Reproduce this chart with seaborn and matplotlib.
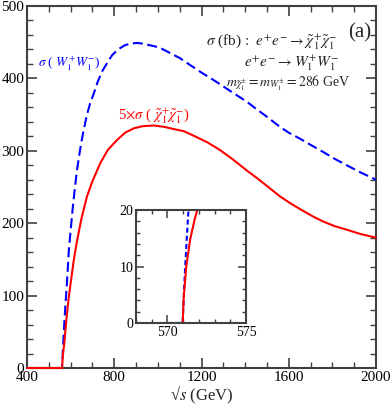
import numpy as np
import pandas as pd
import matplotlib
matplotlib.use("Agg")
import matplotlib.pyplot as plt
from matplotlib.ticker import MultipleLocator
import seaborn as sns

# ---- data ----
ww_sqrt_s = [400, 560, 563, 566, 570, 575, 583, 592, 600, 610, 620, 629, 640,
             650, 660, 675, 690, 706, 725, 745, 767, 790, 810, 828, 850, 875,
             904, 930, 960, 990, 1011, 1050, 1101, 1150, 1200, 1254, 1300,
             1350, 1407, 1450, 1500, 1560, 1600, 1650, 1713, 1760, 1810,
             1866, 1930, 2000]
ww_sigma = [0, 0, 15, 34, 56, 82, 117, 163, 190, 222, 250, 273, 295,
            313, 329, 350, 366, 379, 396, 410, 421, 432, 438, 442, 446, 448,
            449, 448, 446, 444, 442, 436, 428, 418, 408, 398, 389,
            379, 368, 358, 347, 333, 325, 317, 306, 298, 289,
            280, 270, 260]

chi_sqrt_s = [400, 561, 563, 566, 571, 576, 582, 590, 600, 614, 629, 650, 675,
              700, 736, 770, 813, 850, 889, 930, 981, 1030, 1073, 1120, 1170,
              1225, 1280, 1340, 1407, 1460, 1510, 1560, 1610, 1660, 1713,
              1760, 1810, 1866, 1930, 2000]
chi_sigma5 = [0, 0, 12, 22, 34, 52, 71, 94, 117, 148, 175, 207, 237,
              258, 283, 301, 315, 325, 331, 334, 335, 333, 330, 327, 320,
              312, 302, 289, 273, 261, 249, 237, 227, 218, 209,
              202, 196, 191, 185, 180]

ins_ww_x = [570.0, 570.97, 571.04, 571.13, 571.22, 571.3, 571.35]
ins_ww_y = [0, 0, 4.7, 10, 14.5, 18.2, 20.5]
ins_chi_x = [570.0, 570.97, 571.04, 571.2, 571.44, 571.72, 571.9]
ins_chi_y = [0, 0, 4.7, 10, 14.7, 18.2, 20]

x_ticks = [400, 800, 1200, 1600, 2000]
y_ticks = [0, 100, 200, 300, 400, 500]
ins_x_ticks = [570, 575]
ins_y_ticks = [0, 10, 20]

sns.set_theme(style="ticks")
plt.rcParams["font.family"] = ["Liberation Serif", "DejaVu Serif"]
plt.rcParams["mathtext.fontset"] = "stix"

W, H = 392, 409
fig = plt.figure(figsize=(W / 100, H / 100), dpi=100)
ax = fig.add_axes([27 / W, 1 - 368 / H, (376 - 27) / W, (368 - 6) / H])

BLUE = "#0000ff"
RED = "#ff0000"
SPINE = "#404040"

df_ww = pd.DataFrame({"x": ww_sqrt_s, "y": ww_sigma})
df_chi = pd.DataFrame({"x": chi_sqrt_s, "y": chi_sigma5})

sns.lineplot(data=df_ww, x="x", y="y", ax=ax, color=BLUE, lw=1.5,
             estimator=None, sort=False)
ax.lines[-1].set_dashes([4.8, 2.2])
ax.lines[-1].set_clip_on(False)
sns.lineplot(data=df_chi, x="x", y="y", ax=ax, color=RED, lw=1.5,
             estimator=None, sort=False)
ax.lines[-1].set_clip_on(False)

ax.set_xlim(400, 2000)
ax.set_ylim(0, 500)
ax.set_xticks(x_ticks)
ax.set_yticks(y_ticks)
ax.xaxis.set_minor_locator(MultipleLocator(100))
ax.yaxis.set_minor_locator(MultipleLocator(20))
ax.tick_params(which="both", direction="in", top=True, right=True,
               colors=SPINE, labelcolor="black", labelsize=11, pad=2)
ax.tick_params(which="major", length=7, width=1.2)
ax.tick_params(which="minor", length=4, width=1.0)
for s in ax.spines.values():
    s.set_color(SPINE)
    s.set_linewidth(1.5)
    s.set_zorder(0.5)
ax.set_xlabel("\u221a" + r"$\mathit{s}$" + " (GeV)", fontsize=12, labelpad=1)
ax.set_ylabel("")

# annotations
def ftext(px, py, s, **kw):
    fig.text(px / W, 1 - py / H, s, **kw)

ftext(360, 33, "(a)", fontsize=15, ha="center", va="center")
ftext(337, 42, r"$\sigma$ (fb) :  $e^{+}e^{-}\rightarrow\tilde{\chi}_1^{+}\tilde{\chi}_1^{-}$",
      fontsize=11, ha="right", va="center")
ftext(339, 63, r"$e^{+}e^{-}\rightarrow W_1^{+}W_1^{-}$",
      fontsize=11, ha="right", va="center")
ftext(350, 83, r"$m_{\tilde{\chi}_1^{\pm}} = m_{W_1^{\pm}} = 286$ GeV",
      fontsize=10, ha="right", va="center")
ftext(38, 64, r"$\sigma$ ( $W_1^{+}W_1^{-}$)", fontsize=9.5, color=BLUE,
      ha="left", va="center")
ftext(118, 116, r"5$\times\sigma$ ( $\tilde{\chi}_1^{+}\tilde{\chi}_1^{-}$)",
      fontsize=10.5, color=RED, ha="left", va="center")

# inset
ins = fig.add_axes([136 / W, 1 - 323 / H, (246 - 136) / W, (323 - 210) / H])
df_iw = pd.DataFrame({"x": ins_ww_x, "y": ins_ww_y})
df_ic = pd.DataFrame({"x": ins_chi_x, "y": ins_chi_y})
sns.lineplot(data=df_iw, x="x", y="y", ax=ins, color=BLUE, lw=1.5,
             estimator=None, sort=False)
ins.lines[-1].set_dashes([2.4, 1.5])
sns.lineplot(data=df_ic, x="x", y="y", ax=ins, color=RED, lw=1.5,
             estimator=None, sort=False)
for ln in ins.lines:
    ln.set_clip_on(True)
ins.set_xlim(568, 575)
ins.set_ylim(0, 20)
ins.set_xticks(ins_x_ticks)
ins.set_yticks(ins_y_ticks)
ins.xaxis.set_minor_locator(MultipleLocator(1))
ins.yaxis.set_minor_locator(MultipleLocator(2))
ins.tick_params(which="both", direction="in", top=True, right=True,
                colors=SPINE, labelcolor="black", labelsize=10, pad=2)
ins.tick_params(which="major", length=6, width=1.1)
ins.tick_params(which="minor", length=3, width=1.0)
for s in ins.spines.values():
    s.set_color(SPINE)
    s.set_linewidth(1.5)
ins.set_xlabel("")
ins.set_ylabel("")

fig.savefig("out.png", dpi=100)
